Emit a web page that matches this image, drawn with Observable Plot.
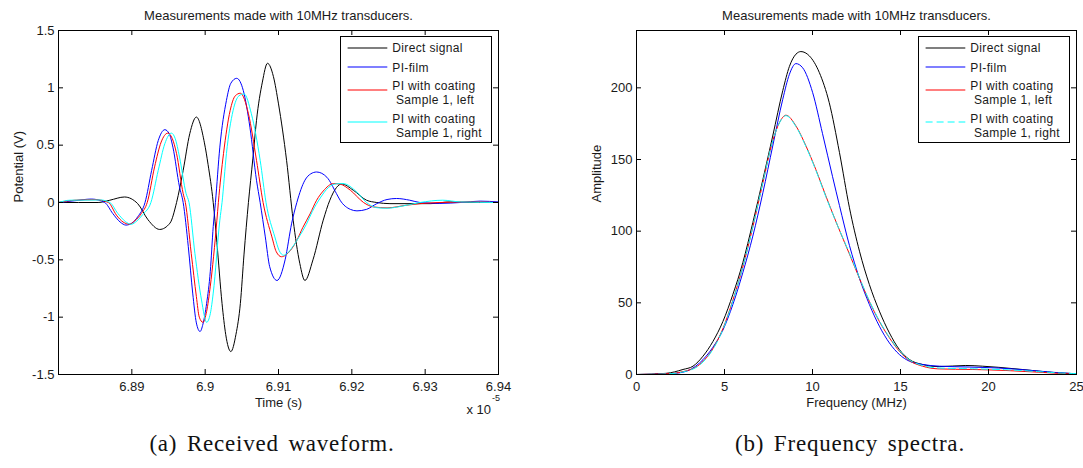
<!DOCTYPE html>
<html>
<head>
<meta charset="utf-8">
<script src="https://cdn.jsdelivr.net/npm/d3@7"></script>
<script src="https://cdn.jsdelivr.net/npm/@observablehq/plot@0.6"></script>
<style>
  html, body { margin: 0; padding: 0; background: #fff; overflow: hidden; }
  #fig { position: relative; width: 1083px; height: 468px; overflow: hidden; background: #fff; }
  .panel { position: absolute; top: 0; }
</style>
</head>
<body>
<div id="fig"></div>
<script>
// ---------------- DATA ----------------
const titleText = "Measurements made with 10MHz transducers.";
const seriesNames = ["Direct signal", "PI-film", "PI with coating\n Sample 1, left", "PI with coating\n Sample 1, right"];
const seriesColors = ["#000000", "#0000ff", "#ff0000", "#00ffff"];

// (a) Received waveform — time in units of 1e-5 s, potential in V
const timeTicks = [6.89, 6.9, 6.91, 6.92, 6.93, 6.94];
const potentialTicks = [-1.5, -1, -0.5, 0, 0.5, 1, 1.5];

const directT = [6.8800, 6.8854, 6.8870, 6.8890, 6.8908, 6.8922, 6.8938, 6.8952, 6.8961, 6.8970, 6.8979, 6.8988, 6.8999, 6.9004, 6.9011, 6.9016, 6.9023, 6.9028, 6.9035, 6.9042, 6.9048, 6.9053, 6.9059, 6.9065, 6.9070, 6.9078, 6.9085, 6.9093, 6.9100, 6.9111, 6.9120, 6.9129, 6.9136, 6.9147, 6.9161, 6.9170, 6.9179, 6.9186, 6.9202, 6.9220, 6.9234, 6.9252, 6.9307, 6.9334, 6.9361, 6.9400];
const directV = [0, 0, 0.02, 0.048, -0.01, -0.15, -0.235, -0.18, 0, 0.28, 0.60, 0.745, 0.52, 0.33, 0, -0.35, -0.88, -1.15, -1.30, -1.15, -0.88, -0.45, 0, 0.38, 0.716, 1.05, 1.214, 1.10, 0.86, 0.368, -0.154, -0.53, -0.68, -0.50, -0.154, 0.02, 0.13, 0.162, 0.107, 0.02, 0, -0.01, -0.01, 0.005, 0, 0];

const filmT = [6.8800, 6.8822, 6.8845, 6.8863, 6.8874, 6.8884, 6.8892, 6.8900, 6.8908, 6.8918, 6.8927, 6.8936, 6.8945, 6.8951, 6.8956, 6.8965, 6.8970, 6.8977, 6.8983, 6.8988, 6.8993, 6.8997, 6.9002, 6.9007, 6.9011, 6.9014, 6.9020, 6.9029, 6.9035, 6.9043, 6.9052, 6.9061, 6.9070, 6.9075, 6.9082, 6.9088, 6.9098, 6.9109, 6.9118, 6.9125, 6.9136, 6.9144, 6.9152, 6.9166, 6.9179, 6.9184, 6.9198, 6.9207, 6.9220, 6.9234, 6.9248, 6.9261, 6.9279, 6.9293, 6.9320, 6.9348, 6.9375, 6.9400];
const filmV = [0, 0.015, 0.03, 0, -0.096, -0.17, -0.197, -0.18, -0.125, 0, 0.28, 0.54, 0.635, 0.60, 0.483, 0.136, 0, -0.386, -0.79, -1.05, -1.125, -1.06, -0.88, -0.60, -0.21, 0, 0.483, 0.89, 1.04, 1.083, 0.976, 0.657, 0.194, 0, -0.30, -0.56, -0.68, -0.50, -0.18, 0, 0.194, 0.25, 0.266, 0.22, 0.078, 0.02, -0.06, -0.073, -0.06, -0.01, 0.026, 0.035, 0.02, 0, -0.008, 0, 0.012, 0.005];

const leftT = [6.8800, 6.8822, 6.8850, 6.8868, 6.8879, 6.8888, 6.8897, 6.8904, 6.8913, 6.8921, 6.8931, 6.8940, 6.8949, 6.8955, 6.8961, 6.8970, 6.8973, 6.8981, 6.8988, 6.8992, 6.8997, 6.9002, 6.9007, 6.9016, 6.9018, 6.9025, 6.9034, 6.9041, 6.9048, 6.9059, 6.9070, 6.9079, 6.9091, 6.9097, 6.9104, 6.9116, 6.9125, 6.9133, 6.9143, 6.9152, 6.9161, 6.9175, 6.9184, 6.9198, 6.9216, 6.9229, 6.9248, 6.9275, 6.9293, 6.9320, 6.9361, 6.9400];
const leftV = [0, 0.02, 0.025, 0, -0.11, -0.17, -0.189, -0.16, -0.096, 0, 0.31, 0.527, 0.605, 0.56, 0.426, 0.078, 0, -0.443, -0.82, -1.0, -1.045, -0.95, -0.73, -0.154, 0, 0.426, 0.80, 0.93, 0.953, 0.774, 0.368, 0, -0.30, -0.43, -0.473, -0.42, -0.33, -0.22, -0.10, 0.02, 0.10, 0.165, 0.16, 0.107, 0, -0.038, -0.047, -0.023, -0.01, 0, 0.005, 0];

const rightT = [6.8800, 6.8816, 6.8857, 6.8870, 6.8881, 6.8891, 6.8899, 6.8907, 6.8915, 6.8926, 6.8936, 6.8945, 6.8954, 6.8959, 6.8965, 6.8974, 6.8978, 6.8986, 6.8995, 6.9002, 6.9007, 6.9011, 6.9020, 6.9023, 6.9029, 6.9038, 6.9046, 6.9053, 6.9063, 6.9075, 6.9083, 6.9095, 6.9101, 6.9107, 6.9120, 6.9129, 6.9138, 6.9146, 6.9157, 6.9168, 6.9179, 6.9188, 6.9207, 6.9220, 6.9234, 6.9248, 6.9266, 6.9293, 6.9324, 6.9348, 6.9400];
const rightV = [0, 0.02, 0.022, 0, -0.096, -0.165, -0.19, -0.16, -0.104, 0, 0.28, 0.513, 0.605, 0.56, 0.397, 0.078, 0, -0.443, -0.85, -1.045, -0.97, -0.79, -0.154, 0, 0.426, 0.80, 0.93, 0.947, 0.774, 0.368, 0, -0.30, -0.42, -0.46, -0.38, -0.29, -0.19, -0.08, 0.04, 0.13, 0.163, 0.165, 0.09, 0, -0.045, -0.05, -0.035, 0, 0.02, 0.005, 0];

// (b) Frequency spectra — frequency in MHz, amplitude
const freqTicks = [0, 5, 10, 15, 20, 25];
const ampTicks = [0, 50, 100, 150, 200];

const directF = [0, 1.68, 2.64, 3.21, 3.78, 4.34, 4.91, 5.48, 6.04, 6.61, 7.18, 7.74, 8.31, 8.69, 9.06, 9.34, 9.82, 10.39, 10.95, 11.53, 12.10, 12.67, 13.23, 13.80, 14.37, 14.93, 15.50, 16.25, 17.20, 18.71, 19.65, 20.59, 21.91, 22.86, 23.59, 25];
const directA = [0, 0.8, 3.5, 5.8, 12.8, 23, 37, 56, 78, 106, 136, 166.4, 198, 215, 223.5, 225.3, 222.3, 210.6, 189.7, 155, 116.3, 86, 62.8, 44.2, 29, 17.5, 10.5, 7, 5.5, 6.3, 5.8, 5, 3.5, 2.3, 1.5, 0.5];

const filmF = [0, 1.68, 2.64, 3.59, 4.34, 4.91, 5.48, 6.04, 6.61, 7.18, 7.74, 8.31, 8.69, 9.06, 9.44, 10.01, 10.57, 11.14, 11.53, 12.10, 12.67, 13.23, 13.80, 14.37, 14.93, 15.50, 16.25, 17.20, 18.90, 20.59, 22.29, 23.70, 25];
const filmA = [0, 0.4, 1.6, 8.1, 19, 31, 49, 71, 96.6, 126.8, 159.4, 192, 209.5, 216.9, 214, 196.6, 168, 138, 118, 90, 67, 48.9, 33.7, 22, 14, 9.3, 7, 5.8, 5.2, 4.5, 3, 1.5, 0.5];

const leftF = [0, 1.68, 2.64, 3.59, 4.34, 4.91, 5.48, 6.04, 6.61, 7.18, 7.74, 8.12, 8.49, 9.06, 9.63, 10.19, 10.76, 11.42, 12.10, 12.67, 13.23, 13.80, 14.37, 14.93, 15.50, 16.25, 17.20, 19.07, 20.99, 22.86, 23.98, 25];
const leftA = [0, 0.5, 2, 7, 18, 32, 52, 75, 103, 133.8, 163, 175.7, 180.9, 173.4, 159.4, 143, 124.5, 104, 84, 67, 51, 37, 25.6, 16.3, 9.8, 5.8, 3.9, 3.5, 2.8, 1.6, 0.8, 0.4];

const rightF = [0, 1.68, 2.64, 3.59, 4.34, 4.91, 5.48, 6.04, 6.61, 7.18, 7.74, 8.12, 8.49, 9.06, 9.63, 10.19, 10.76, 11.42, 12.10, 12.67, 13.23, 13.80, 14.37, 14.93, 15.50, 16.25, 17.20, 19.07, 20.99, 22.86, 23.98, 25];
const rightA = [0, 0.4, 1.8, 6.6, 17.5, 31.5, 51.5, 75, 103, 134, 163, 175.5, 180.6, 173, 159, 142.5, 124, 104, 84.5, 67.5, 51.5, 37.5, 26, 16.8, 10.2, 6.3, 4.5, 4, 3.3, 2, 1.1, 0.6];

// ---------------- BUILD ----------------
const FONT = "'Liberation Sans', Arial, Helvetica, sans-serif";
const INK = "#1a1a1a";
const H = 430, MT = 30, MB = 56, ML = 58;
const innerH = H - MT - MB;

function rows(xs, ys) { return xs.map((x, i) => ({x, y: ys[i]})); }

function panel({width, marginRight, xDomain, yDomain, xTicks, yTicks, xLabel, yLabel, series, extra = []}) {
  const innerW = width - ML - marginRight;
  return Plot.plot({
    width, height: H,
    marginLeft: ML, marginRight, marginTop: MT, marginBottom: MB,
    x: {domain: xDomain, axis: null},
    y: {domain: yDomain, axis: null},
    style: {fontFamily: FONT, fontSize: "13px", color: INK, background: "transparent", overflow: "visible"},
    marks: [
      ...series.map(s => Plot.line(s.data, {x: "x", y: "y", stroke: s.color, strokeWidth: 1, curve: "monotone-x", strokeDasharray: s.dash || null})),
      Plot.frame({stroke: "#000", strokeWidth: 1}),
      Plot.tickX(xTicks, {x: d => d, insetTop: innerH - 5, stroke: "#000"}),
      Plot.tickX(xTicks, {x: d => d, insetBottom: innerH - 5, stroke: "#000"}),
      Plot.tickY(yTicks, {y: d => d, insetRight: innerW - 5, stroke: "#000"}),
      Plot.tickY(yTicks, {y: d => d, insetLeft: innerW - 5, stroke: "#000"}),
      Plot.axisX(xTicks, {anchor: "bottom", tickSize: 0, tickPadding: 7, tickFormat: d => String(d), label: null, fill: INK}),
      Plot.axisY(yTicks, {anchor: "left", tickSize: 0, tickPadding: 4, tickFormat: d => String(d), label: null, fill: INK}),
      Plot.text([titleText], {text: d => d, frameAnchor: "top", dy: -15, lineAnchor: "middle", fill: INK}),
      Plot.text([xLabel], {text: d => d, frameAnchor: "bottom", dy: 28.5, lineAnchor: "middle", fill: INK}),
      Plot.text([yLabel], {text: d => d, frameAnchor: "left", dx: -40, rotate: -90, lineAnchor: "middle", fill: INK}),
      ...extra
    ]
  });
}

const fig = document.getElementById("fig");

const leftPlot = panel({
  width: 540, marginRight: 42,
  xDomain: [6.88, 6.94], yDomain: [-1.5, 1.5],
  xTicks: timeTicks, yTicks: potentialTicks,
  xLabel: "Time (s)", yLabel: "Potential (V)",
  series: [
    {data: rows(directT, directV), color: seriesColors[0]},
    {data: rows(filmT, filmV), color: seriesColors[1]},
    {data: rows(leftT, leftV), color: seriesColors[2]},
    {data: rows(rightT, rightV), color: seriesColors[3]}
  ],
  extra: [
    Plot.text(["x 10"], {text: d => d, frameAnchor: "bottom-right", dx: -7.5, dy: 35.5, textAnchor: "end", lineAnchor: "middle", fill: INK}),
    Plot.text(["-5"], {text: d => d, frameAnchor: "bottom-right", dx: -6.5, dy: 24, textAnchor: "start", lineAnchor: "middle", fontSize: 9, fill: INK})
  ]
});
leftPlot.classList.add("panel");
leftPlot.style.left = "0px";
fig.appendChild(leftPlot);

const rightPlot = panel({
  width: 505, marginRight: 7,
  xDomain: [0, 25], yDomain: [0, 240],
  xTicks: freqTicks, yTicks: ampTicks,
  xLabel: "Frequency (MHz)", yLabel: "Amplitude",
  series: [
    {data: rows(directF, directA), color: seriesColors[0]},
    {data: rows(filmF, filmA), color: seriesColors[1]},
    {data: rows(leftF, leftA), color: seriesColors[2]},
    {data: rows(rightF, rightA), color: seriesColors[3], dash: "7,4"}
  ]
});
rightPlot.classList.add("panel");
rightPlot.style.left = "578px";
fig.appendChild(rightPlot);

// ---------------- LEGENDS ----------------
function legend(left, top, dashLast) {
  const w = 152, h = 107;
  const svg = d3.create("svg").attr("width", w).attr("height", h)
    .style("position", "absolute").style("left", left + "px").style("top", top + "px")
    .style("font-family", FONT).style("font-size", "12px").style("letter-spacing", "0.35px");
  svg.append("rect").attr("x", 0.5).attr("y", 0.5).attr("width", w - 1).attr("height", h - 1)
    .attr("fill", "#fff").attr("stroke", "#000");
  const lineYs = [12, 31, 54, 86];
  const textYs = [[12], [31.3], [50, 64], [82.5, 96.5]];
  seriesNames.forEach((name, i) => {
    svg.append("line").attr("x1", 7.6).attr("x2", 47.3).attr("y1", lineYs[i]).attr("y2", lineYs[i])
      .attr("stroke", seriesColors[i]).attr("stroke-width", 1.1)
      .attr("stroke-dasharray", (dashLast && i === 3) ? "7,4" : null);
    name.split("\n").forEach((t, j) => {
      svg.append("text").attr("x", 52.3).attr("y", textYs[i][j]).attr("dy", "0.35em")
        .attr("fill", INK).attr("xml:space", "preserve").style("white-space", "pre").text(t);
    });
  });
  fig.appendChild(svg.node());
}
legend(340, 36, false);
legend(918, 36, true);

// ---------------- CAPTIONS ----------------
const capSvg = d3.create("svg").attr("width", 1083).attr("height", 468)
  .style("position", "absolute").style("left", "0px").style("top", "0px").style("pointer-events", "none");
const captions = [{text: "(a) Received waveform.", x: 272}, {text: "(b) Frequency spectra.", x: 850}];
captions.forEach(c => {
  capSvg.append("text").attr("x", c.x).attr("y", 451).attr("text-anchor", "middle")
    .attr("font-family", "'Liberation Serif', 'DejaVu Serif', serif").attr("font-size", 23)
    .attr("letter-spacing", "0.8").attr("word-spacing", "3").attr("fill", "#111").text(c.text);
});
fig.appendChild(capSvg.node());
</script>
</body>
</html>
